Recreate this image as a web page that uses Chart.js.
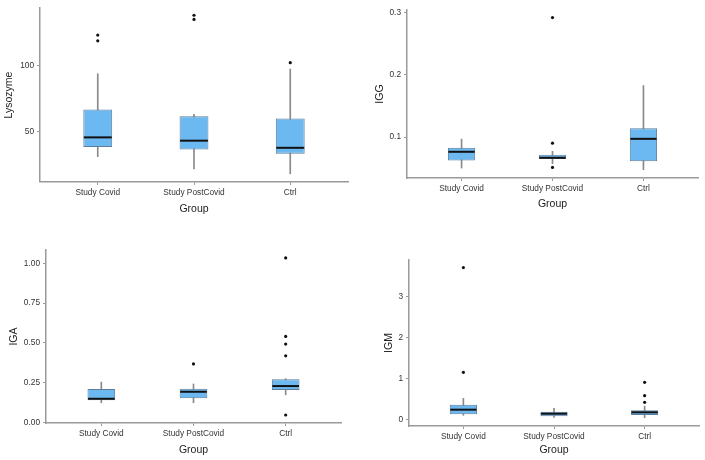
<!DOCTYPE html>
<html>
<head>
<meta charset="utf-8">
<script src="https://cdn.jsdelivr.net/npm/chart.js@4.4.1/dist/chart.umd.min.js"></script>
<style>
    html, body { margin: 0; padding: 0; background: #fff; }
    body { width: 705px; height: 460px; position: relative; overflow: hidden; }
    .panel { position: absolute; }
</style>
</head>
<body>
<div class="panel" style="left:0px;top:0px"><canvas id="lysoChart" width="352" height="218"></canvas></div>
<div class="panel" style="left:371px;top:0px"><canvas id="iggChart" width="331" height="213"></canvas></div>
<div class="panel" style="left:5px;top:230px"><canvas id="igaChart" width="340" height="229"></canvas></div>
<div class="panel" style="left:380px;top:230px"><canvas id="igmChart" width="323" height="229"></canvas></div>
<script>
'use strict';

let groups = ['Study Covid', 'Study PostCovid', 'Ctrl'];

// Lysozyme
let lysoLow = [31.0, 21.7, 18.0];
let lysoQ1 = [38.4, 36.5, 33.2];
let lysoMed = [45.6, 43.1, 37.7];
let lysoQ3 = [66.8, 61.6, 59.8];
let lysoHigh = [93.8, 63.1, 97.3];
let lysoOut = [[1, 123.1], [1, 118.7], [2, 138.1], [2, 134.9], [3, 102.2]];
let lysoTicks = [50, 100];

// IGG
let iggLow = [0.0504, 0.0574, 0.0477];
let iggQ1 = [0.0626, 0.0648, 0.0613];
let iggMed = [0.0765, 0.0669, 0.0973];
let iggQ3 = [0.0829, 0.0717, 0.1144];
let iggHigh = [0.0968, 0.0773, 0.1829];
let iggOut = [[2, 0.292], [2, 0.0904], [2, 0.0514]];
let iggTicks = [0.1, 0.2, 0.3];

// IGA
let igaLow = [0.123, 0.123, 0.173];
let igaQ1 = [0.138, 0.151, 0.203];
let igaMed = [0.148, 0.192, 0.228];
let igaQ3 = [0.209, 0.211, 0.270];
let igaHigh = [0.253, 0.241, 0.274];
let igaOut = [[2, 0.367], [3, 1.034], [3, 0.54], [3, 0.492], [3, 0.418], [3, 0.046]];
let igaTicks = [0, 0.25, 0.5, 0.75, 1.0];

// IGM
let igmLow = [0.106, 0.057, 0.045];
let igmQ1 = [0.130, 0.082, 0.114];
let igmMed = [0.244, 0.146, 0.180];
let igmQ3 = [0.366, 0.195, 0.229];
let igmHigh = [0.52, 0.277, 0.33];
let igmOut = [[1, 3.72], [1, 1.157], [3, 0.913], [3, 0.586], [3, 0.424]];
let igmTicks = [0, 1, 2, 3];

let axisColor = '#9a9a9a';
let tickColor = '#333';
let titleColor = '#222';
let tickFont = { family: '"Liberation Sans", Arial, sans-serif', size: 8.3 };
let titleFont = { family: '"Liberation Sans", Arial, sans-serif', size: 10.5 };

// draws the median bar across each box
let medianPlugin = {
    id: 'medianLine',
    afterDatasetsDraw: function (chart) {
        let ds = chart.data.datasets[1];
        let meta = chart.getDatasetMeta(1);
        let yScale = chart.scales.y;
        let ctx = chart.ctx;
        ctx.save();
        ctx.strokeStyle = '#111';
        ctx.lineWidth = 2;
        meta.data.forEach(function (bar, i) {
            let y = yScale.getPixelForValue(ds.medians[i]);
            ctx.beginPath();
            ctx.moveTo(bar.x - bar.width / 2 + 0.5, y);
            ctx.lineTo(bar.x + bar.width / 2 - 0.5, y);
            ctx.stroke();
        });
        ctx.restore();
    }
};

let makeBoxChart = function (id, cfg, lay) {
    let whiskers = groups.map((g, i) => ({ x: i + 1, y: [cfg.low[i], cfg.high[i]] }));
    let boxes = groups.map((g, i) => ({ x: i + 1, y: [cfg.q1[i], cfg.q3[i]] }));
    let points = cfg.out.map(o => ({ x: o[0], y: o[1] }));

    return new Chart(document.getElementById(id), {
        type: 'bar',
        data: {
            datasets: [
                {
                    data: whiskers,
                    backgroundColor: '#8a8a8a',
                    barThickness: 1,
                    grouped: false,
                    order: 3
                },
                {
                    data: boxes,
                    medians: cfg.med,
                    backgroundColor: '#6cb8f0',
                    borderColor: '#5e7d9b',
                    borderWidth: 1,
                    borderSkipped: false,
                    barPercentage: 0.3,
                    categoryPercentage: 1,
                    grouped: false,
                    order: 2
                },
                {
                    type: 'scatter',
                    data: points,
                    pointRadius: 1.6,
                    backgroundColor: '#111',
                    borderWidth: 0,
                    order: 1
                }
            ]
        },
        options: {
            responsive: false,
            animation: false,
            layout: { padding: { top: lay.padTop, right: 4, left: 0, bottom: 0 } },
            plugins: {
                legend: { display: false },
                tooltip: { enabled: false }
            },
            scales: {
                x: {
                    type: 'linear',
                    min: 0.4,
                    max: 3.6,
                    offset: false,
                    grid: { display: true, drawOnChartArea: false, drawTicks: true, tickLength: 3, color: axisColor, offset: false },
                    border: { display: true, color: axisColor, width: 1.5 },
                    ticks: { padding: 3, color: tickColor, font: tickFont, maxRotation: 0, autoSkip: false, callback: v => groups[v - 1] },
                    title: { display: true, text: 'Group', color: titleColor, font: titleFont, padding: { top: 0, bottom: 3 } },
                    afterBuildTicks: s => { s.ticks = [1, 2, 3].map(v => ({ value: v })); },
                    afterFit: s => { s.height = lay.xh; }
                },
                y: {
                    type: 'linear',
                    min: cfg.min,
                    max: cfg.max,
                    grid: { display: true, drawOnChartArea: false, drawTicks: true, tickLength: 3, color: axisColor },
                    border: { display: true, color: axisColor, width: 1.5 },
                    ticks: { padding: 3, color: tickColor, font: tickFont, callback: v => v.toFixed(cfg.digits) },
                    title: { display: true, text: cfg.title, color: titleColor, font: titleFont, padding: { top: 3, bottom: 0 } },
                    afterBuildTicks: s => { s.ticks = cfg.ticks.map(v => ({ value: v })); },
                    afterFit: s => { s.width = lay.yw; }
                }
            }
        },
        plugins: [medianPlugin]
    });
};

makeBoxChart('lysoChart',
    { title: 'Lysozyme', low: lysoLow, q1: lysoQ1, med: lysoMed, q3: lysoQ3, high: lysoHigh, out: lysoOut, ticks: lysoTicks, min: 11.8, max: 143.6, digits: 0 },
    { padTop: 3, xh: 36, yw: 40 });

makeBoxChart('iggChart',
    { title: 'IGG', low: iggLow, q1: iggQ1, med: iggMed, q3: iggQ3, high: iggHigh, out: iggOut, ticks: iggTicks, min: 0.0344, max: 0.3042, digits: 1 },
    { padTop: 10, xh: 35, yw: 36 });

makeBoxChart('igaChart',
    { title: 'IGA', low: igaLow, q1: igaQ1, med: igaMed, q3: igaQ3, high: igaHigh, out: igaOut, ticks: igaTicks, min: -0.0044, max: 1.0836, digits: 2 },
    { padTop: 20, xh: 36, yw: 41 });

makeBoxChart('igmChart',
    { title: 'IGM', low: igmLow, q1: igmQ1, med: igmMed, q3: igmQ3, high: igmHigh, out: igmOut, ticks: igmTicks, min: -0.155, max: 3.904, digits: 0 },
    { padTop: 30, xh: 33, yw: 29 });
</script>
</body>
</html>
